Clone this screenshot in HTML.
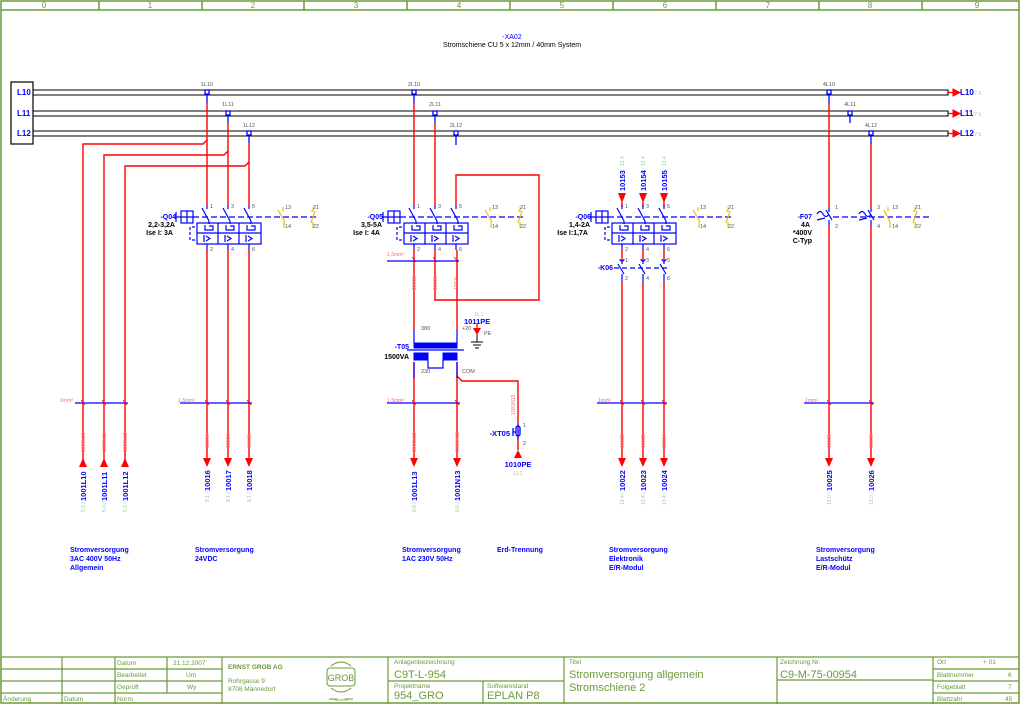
<!DOCTYPE html>
<html><head><meta charset="utf-8"><style>
html,body{margin:0;padding:0;background:#fff;}
svg{display:block;font-family:"Liberation Sans",sans-serif;}
</style></head><body>
<svg width="1024" height="704" viewBox="0 0 1024 704" xmlns="http://www.w3.org/2000/svg">
<defs>
<g id="brk" fill="none" stroke="#0000ff" stroke-width="1.2">
  <path d="M207,205v4M228,205v4M249,205v4"/>
  <path d="M202,208l7,13M223,208l7,13M244,208l7,13"/>
  <path d="M209,221v3M230,221v3M251,221v3"/>
  <path d="M193,217H318" stroke-dasharray="6,3"/>
  <rect x="181" y="211" width="12" height="12"/>
  <path d="M187,211v12M181,217h12M176,212v10M176,217h5"/>
  <rect x="197" y="223" width="64" height="21"/>
  <path d="M218,223v21M239,223v21M197,233h64"/>
  <path d="M205,225v5h8v-4h-4M226,225v5h8v-4h-4M247,225v5h8v-4h-4"/>
  <path d="M204,235v7M206,236l4,2.5l-4,2.5M225,235v7M227,236l4,2.5l-4,2.5M246,235v7M248,236l4,2.5l-4,2.5"/>
  <path d="M195,227h-5v13h7" stroke-dasharray="3,2"/>
  <path d="M207,244v6M228,244v6M249,244v6"/>
</g>
<g id="aux" fill="none" stroke="#e0c020" stroke-width="1.2">
  <path d="M283,207v4M278,210l7,12M284,222v6M313,207v4h-2M315,211l-4,12M313,222v6"/>
</g>
</defs>

<!-- frame -->
<g stroke="#6a9a3a" fill="none" stroke-width="1.5">
  <rect x="1" y="1" width="1018" height="702"/>
  <path d="M1,10H1019"/>
  <path d="M99,1v9M202,1v9M304,1v9M407,1v9M510,1v9M613,1v9M716,1v9M819,1v9M922,1v9"/>
</g>
<g fill="#6a9a3a" font-size="8" text-anchor="middle">
  <text x="44" y="8">0</text><text x="150" y="8">1</text><text x="253" y="8">2</text><text x="356" y="8">3</text><text x="459" y="8">4</text><text x="562" y="8">5</text><text x="665" y="8">6</text><text x="768" y="8">7</text><text x="870" y="8">8</text><text x="977" y="8">9</text>
</g>

<!-- header -->
<text x="512" y="39" font-size="7" fill="#0000ff" text-anchor="middle">-XA02</text>
<text x="512" y="47" font-size="7" fill="#000" text-anchor="middle">Stromschiene CU 5 x 12mm / 40mm System</text>

<!-- busbars -->
<rect x="11" y="82" width="22" height="62" fill="none" stroke="#000" stroke-width="1.2"/>
<g fill="#0000ff" font-size="8" font-weight="bold">
<text x="17" y="95">L10</text><text x="17" y="116">L11</text><text x="17" y="136">L12</text>
</g>
<g stroke="#000" stroke-width="1.1" fill="none">
<path d="M33,90H948V95H33M33,111H948V116H33M33,131H948V136H33"/>
</g>
<g fill="#ff0000" stroke="#ff0000">
<path d="M948,92.5h6M948,113.5h6M948,133.5h6" stroke-width="1.2"/>
<polygon points="953,89 960,92.5 953,96"/><polygon points="953,110 960,113.5 953,117"/><polygon points="953,130 960,133.5 953,137"/>
</g>
<g font-size="8" font-weight="bold" fill="#0000ff">
<text x="960" y="95">L10</text><text x="960" y="116">L11</text><text x="960" y="136">L12</text></g>
<g font-size="5" fill="#9c9">
<text x="973" y="95">/7.0</text><text x="973" y="116">/7.0</text><text x="973" y="136">/7.0</text></g>

<!-- tap labels -->
<g font-size="5.5" fill="#555" text-anchor="middle">
<text x="207" y="86">1L10</text><text x="228" y="106">1L11</text><text x="249" y="127">1L12</text>
<text x="414" y="86">2L10</text><text x="435" y="106">2L11</text><text x="456" y="127">2L12</text>
<text x="829" y="86">4L10</text><text x="850" y="106">4L11</text><text x="871" y="127">4L12</text>
</g>
<g stroke="#0000ff" stroke-width="1.3" fill="#fff">
<path d="M207,94v9M228,115v8M249,135v8M414,94v9M435,115v8M456,135v10M829,94v9M850,115v8M871,135v9" fill="none"/>
<rect x="205" y="90" width="4" height="4"/><rect x="226" y="111" width="4" height="4"/><rect x="247" y="131" width="4" height="4"/>
<rect x="412" y="90" width="4" height="4"/><rect x="433" y="111" width="4" height="4"/><rect x="454" y="131" width="4" height="4"/>
<rect x="827" y="90" width="4" height="4"/><rect x="848" y="111" width="4" height="4"/><rect x="869" y="131" width="4" height="4"/>
</g>

<!-- red wiring -->
<g stroke="#ff0000" stroke-width="1.4" fill="none">
<path d="M207,103V205M228,123V205M249,143V205"/>
<path d="M207,140l-4,4H83V460M228,151l-4,4H104V460M249,162l-4,4H125V460"/>
<path d="M207,250V460M228,250V460M249,250V460"/>
<path d="M414,103V205M435,123V205M456,205V175H539V300H435V250M414,250V330M414,362V460M457,250V330M457,362V460"/>
<path d="M457,376l5,5H518V424M518,440V450"/>
<path d="M622,202V207M643,202V207M664,202V207M622,250V262M643,250V262M664,250V262M622,282V460M643,282V460M664,282V460"/>
<path d="M829,103V207M871,143V207M829,226V460M871,226V460"/>
</g>

<!-- breakers -->
<use href="#brk"/><use href="#aux"/>
<use href="#brk" transform="translate(207,0)"/><use href="#aux" transform="translate(207,0)"/>
<use href="#brk" transform="translate(415,0)"/><use href="#aux" transform="translate(415,0)"/>

<g font-size="5.5" fill="#555">
<text x="210" y="208">1</text><text x="231" y="208">3</text><text x="252" y="208">5</text>
<text x="210" y="251">2</text><text x="231" y="251">4</text><text x="252" y="251">6</text>
<text x="417" y="208">1</text><text x="438" y="208">3</text><text x="459" y="208">5</text>
<text x="417" y="251">2</text><text x="438" y="251">4</text><text x="459" y="251">6</text>
<text x="625" y="208">1</text><text x="646" y="208">3</text><text x="667" y="208">5</text>
<text x="625" y="251">2</text><text x="646" y="251">4</text><text x="667" y="251">6</text>
<text x="285" y="209">13</text><text x="285" y="228">14</text><text x="313" y="209">21</text><text x="313" y="228">22</text>
<text x="492" y="209">13</text><text x="492" y="228">14</text><text x="520" y="209">21</text><text x="520" y="228">22</text>
<text x="700" y="209">13</text><text x="700" y="228">14</text><text x="728" y="209">21</text><text x="728" y="228">22</text>
<text x="835" y="209">1</text><text x="835" y="228">2</text><text x="877" y="209">3</text><text x="877" y="228">4</text>
<text x="892" y="209">13</text><text x="892" y="228">14</text><text x="915" y="209">21</text><text x="915" y="228">22</text>
</g>
<g font-size="7" font-weight="bold" text-anchor="end">
<text x="176" y="219" fill="#0000ff">-Q04</text><text x="175" y="227" fill="#000">2,2-3,2A</text><text x="173" y="235" fill="#000">Ise I: 3A</text>
<text x="383" y="219" fill="#0000ff">-Q05</text><text x="382" y="227" fill="#000">3,5-5A</text><text x="380" y="235" fill="#000">Ise I: 4A</text>
<text x="591" y="219" fill="#0000ff">-Q06</text><text x="590" y="227" fill="#000">1,4-2A</text><text x="588" y="235" fill="#000">Ise I:1,7A</text>
<text x="812" y="219" fill="#0000ff">-F07</text><text x="810" y="227" fill="#000">4A</text><text x="812" y="235" fill="#000">*400V</text><text x="812" y="243" fill="#000">C-Typ</text>
<text x="613" y="270" fill="#0000ff">-K06</text>
</g>

<!-- K06 contacts -->
<g stroke="#0000ff" stroke-width="1.2" fill="none">
<path d="M622,262v2M618,264l6,10M622,274v8M643,262v2M639,264l6,10M643,274v8M664,262v2M660,264l6,10M664,274v8"/>
<path d="M614,268H668" stroke-dasharray="5,3"/>
<path d="M620,259a2,2 0 0 0 4,0M641,259a2,2 0 0 0 4,0M662,259a2,2 0 0 0 4,0"/>
</g>
<g font-size="5.5" fill="#555"><text x="625" y="262">1</text><text x="646" y="262">3</text><text x="667" y="262">5</text><text x="625" y="280">2</text><text x="646" y="280">4</text><text x="667" y="280">6</text></g>

<!-- Q06 top arrows and labels -->
<g fill="#ff0000"><polygon points="618,193 626,193 622,203"/><polygon points="639,193 647,193 643,203"/><polygon points="660,193 668,193 664,203"/></g>
<g font-size="7.5" font-weight="bold" fill="#0000ff">
<text transform="translate(625,191) rotate(-90)">10153</text><text transform="translate(646,191) rotate(-90)">10154</text><text transform="translate(667,191) rotate(-90)">10155</text></g>
<g font-size="5" fill="#9c9">
<text transform="translate(624,166) rotate(-90)">13.4</text><text transform="translate(645,166) rotate(-90)">13.4</text><text transform="translate(666,166) rotate(-90)">13.4</text></g>

<!-- F07 -->
<g stroke="#0000ff" stroke-width="1.2" fill="none">
<path d="M829,207v5M826,210l6,10M829,220v6M871,207v5M868,210l6,10M871,220v6"/>
<path d="M833,217H932" stroke-dasharray="6,3"/>
<path d="M817,214q3,-5 6,0q3,5 6,0M859,214q3,-5 6,0q3,5 6,0M817,220l8,-2M859,220l8,-2"/>
</g>
<g fill="none" stroke="#e0c020" stroke-width="1.2"><path d="M888,207v4M884,210l6,12M890,222v6M915,207v4h-2M917,211l-4,12M915,222v6"/></g>

<!-- transformer -->
<g fill="#0000ff" stroke="#0000ff">
<rect x="414" y="343" width="43" height="5"/>
<path d="M414,330V343M457,330V343M414,362V378M457,362V378M407,350H464" fill="none" stroke-width="1.2"/>
<rect x="414" y="353" width="14" height="7"/><rect x="443" y="353" width="14" height="7"/>
<path d="M428,360v8h15v-8" fill="none" stroke-width="1.2"/>
</g>
<g font-size="5.5" fill="#555"><text x="421" y="330">380</text><text x="421" y="373">230</text><text x="462" y="373">COM</text><text x="462" y="330">+20</text><text x="484" y="335">PE</text></g>
<text x="409" y="349" font-size="7" font-weight="bold" fill="#0000ff" text-anchor="end">-T05</text>
<text x="409" y="359" font-size="7" font-weight="bold" fill="#000" text-anchor="end">1500VA</text>
<text x="464" y="324" font-size="7.5" font-weight="bold" fill="#0000ff">1011PE</text>
<text x="474" y="316" font-size="5" fill="#9c9">11.1</text>
<g stroke="#000" fill="none" stroke-width="1"><path d="M477,334v8M471,342h12M473,345h8M475,348h4"/></g>
<polygon points="473,328 481,328 477,335" fill="#ff0000"/>
<path d="M477,324v5" stroke="#ff0000" stroke-width="1.2"/>

<!-- XT05 -->
<g stroke="#0000ff" stroke-width="1.3" fill="none"><path d="M518,424v16M513,428v8M513,432h3"/><rect x="516" y="426" width="4" height="10" rx="2"/></g>
<text x="510" y="436" font-size="7.5" font-weight="bold" fill="#0000ff" text-anchor="end">-XT05</text>
<g font-size="5.5" fill="#555"><text x="523" y="427">1</text><text x="523" y="445">2</text></g>
<polygon points="514,458 522,458 518,450" fill="#ff0000"/>
<text x="518" y="467" font-size="7.5" font-weight="bold" fill="#0000ff" text-anchor="middle">1010PE</text>
<text x="518" y="475" font-size="5" fill="#9c9" text-anchor="middle">11.1</text>
<text transform="translate(515,415) rotate(-90)" font-size="5" fill="#f66">1001N13</text>

<!-- wire cross-sections -->
<g stroke="#0000ff" stroke-width="1.2" fill="none">
<path d="M75,403H128M180,403H252M387,403H460M597,403H667M804,403H874"/>
</g>
<g stroke="#ff0000" stroke-width="0.8"><path d="M81,400l4,5M102,400l4,5M123,400l4,5M205,400l4,5M226,400l4,5M247,400l4,5M412,400l4,5M455,400l4,5M620,400l4,5M641,400l4,5M662,400l4,5M827,400l4,5M869,400l4,5M412,257l4,5M433,257l4,5M454,257l4,5"/></g>
<path d="M387,261H459" stroke="#0000ff" stroke-width="1.2"/>
<g font-size="5" fill="#f66" font-style="italic">
<text x="60" y="402">1mm²</text><text x="178" y="402">1,5mm²</text><text x="387" y="402">1,5mm²</text><text x="387" y="256">1,5mm²</text><text x="598" y="402">1mm²</text><text x="805" y="402">1mm²</text>
</g>

<!-- bottom arrows -->
<g fill="#ff0000">
<polygon points="79,467 87,467 83,458"/><polygon points="100,467 108,467 104,458"/><polygon points="121,467 129,467 125,458"/>
<polygon points="203,458 211,458 207,467"/><polygon points="224,458 232,458 228,467"/><polygon points="245,458 253,458 249,467"/>
<polygon points="410,458 418,458 414,467"/><polygon points="453,458 461,458 457,467"/>
<polygon points="618,458 626,458 622,467"/><polygon points="639,458 647,458 643,467"/><polygon points="660,458 668,458 664,467"/>
<polygon points="825,458 833,458 829,467"/><polygon points="867,458 875,458 871,467"/>
</g>
<g font-size="7.5" font-weight="bold" fill="#0000ff">
<text transform="translate(86,501) rotate(-90)">1001L10</text><text transform="translate(107,501) rotate(-90)">1001L11</text><text transform="translate(128,501) rotate(-90)">1001L12</text>
<text transform="translate(210,491) rotate(-90)">10016</text><text transform="translate(231,491) rotate(-90)">10017</text><text transform="translate(252,491) rotate(-90)">10018</text>
<text transform="translate(417,501) rotate(-90)">1001L13</text><text transform="translate(460,501) rotate(-90)">1001N13</text>
<text transform="translate(625,491) rotate(-90)">10022</text><text transform="translate(646,491) rotate(-90)">10023</text><text transform="translate(667,491) rotate(-90)">10024</text>
<text transform="translate(832,491) rotate(-90)">10025</text><text transform="translate(874,491) rotate(-90)">10026</text>
</g>
<g font-size="5" fill="#f66">
<text transform="translate(85,452) rotate(-90)">1001L10</text><text transform="translate(106,452) rotate(-90)">1001L11</text><text transform="translate(127,452) rotate(-90)">1001L12</text>
<text transform="translate(209,448) rotate(-90)">10016</text><text transform="translate(230,448) rotate(-90)">10017</text><text transform="translate(251,448) rotate(-90)">10018</text>
<text transform="translate(416,452) rotate(-90)">1001L13</text><text transform="translate(459,452) rotate(-90)">1001N13</text>
<text transform="translate(416,290) rotate(-90)">10019</text><text transform="translate(437,290) rotate(-90)">10020</text><text transform="translate(458,290) rotate(-90)">10021</text>
<text transform="translate(624,448) rotate(-90)">10022</text><text transform="translate(645,448) rotate(-90)">10023</text><text transform="translate(666,448) rotate(-90)">10024</text>
<text transform="translate(831,448) rotate(-90)">10025</text><text transform="translate(873,448) rotate(-90)">10026</text>
</g>
<g font-size="5" fill="#9c9">
<text transform="translate(85,512) rotate(-90)">5.0 /</text><text transform="translate(106,512) rotate(-90)">5.0 /</text><text transform="translate(127,512) rotate(-90)">5.0 /</text>
<text transform="translate(209,502) rotate(-90)">8.1 /</text><text transform="translate(230,502) rotate(-90)">8.1 /</text><text transform="translate(251,502) rotate(-90)">8.1 /</text>
<text transform="translate(416,512) rotate(-90)">8.0 /</text><text transform="translate(459,512) rotate(-90)">8.0 /</text>
<text transform="translate(624,505) rotate(-90)">13.4 /</text><text transform="translate(645,505) rotate(-90)">13.4 /</text><text transform="translate(666,505) rotate(-90)">13.4 /</text>
<text transform="translate(831,505) rotate(-90)">13.0 /</text><text transform="translate(873,505) rotate(-90)">13.0 /</text>
</g>

<!-- group captions -->
<g font-size="7" font-weight="bold" fill="#0000ff">
<text x="70" y="552">Stromversorgung</text><text x="70" y="561">3AC 400V 50Hz</text><text x="70" y="570">Allgemein</text>
<text x="195" y="552">Stromversorgung</text><text x="195" y="561">24VDC</text>
<text x="402" y="552">Stromversorgung</text><text x="402" y="561">1AC 230V 50Hz</text>
<text x="497" y="552">Erd-Trennung</text>
<text x="609" y="552">Stromversorgung</text><text x="609" y="561">Elektronik</text><text x="609" y="570">E/R-Modul</text>
<text x="816" y="552">Stromversorgung</text><text x="816" y="561">Lastschütz</text><text x="816" y="570">E/R-Modul</text>
</g>

<!-- title block -->
<g stroke="#6a9a3a" stroke-width="1.2" fill="none">
<path d="M1,657H1019"/>
<path d="M1,669H222M1,681H222M1,693H222M388,681H564M777,680H933M933,669H1019M933,681H1019M933,693H1019"/>
<path d="M62,657V704M115,657V704M167,657V693M222,657V704M388,657V704M483,681V704M564,657V704M777,657V704M933,657V704"/>
</g>
<g font-size="6.5" fill="#6a9a3a">
<text x="117" y="665">Datum</text><text x="117" y="677">Bearbeitet</text><text x="117" y="689">Geprüft</text><text x="117" y="701">Norm</text>
<text x="173" y="665">21.12.2007</text><text x="186" y="677">Um</text><text x="187" y="689">Wy</text>
<text x="3" y="701">Änderung</text><text x="64" y="701">Datum</text>
<text x="228" y="669" font-weight="bold">ERNST GROB AG</text>
<text x="228" y="683">Rohrgasse 9</text><text x="228" y="691">8708 Männedorf</text>
<text x="394" y="664">Anlagenbezeichnung</text><text x="394" y="688">Projektname</text><text x="487" y="688">Softwarestand</text>
<text x="569" y="664">Titel</text><text x="780" y="664">Zeichnung Nr.</text>
<text x="937" y="664">Ort</text><text x="983" y="664">+ 01</text>
<text x="937" y="677">Blattnummer</text><text x="1008" y="677">6</text>
<text x="937" y="689">Folgeblatt</text><text x="1008" y="689">7</text>
<text x="937" y="701">Blattzahl</text><text x="1005" y="701">45</text>
</g>
<g font-size="11" fill="#6a9a3a">
<text x="394" y="678">C9T-L-954</text><text x="394" y="699">954_GRO</text><text x="487" y="699">EPLAN P8</text>
<text x="569" y="678">Stromversorgung allgemein</text><text x="569" y="691">Stromschiene 2</text>
<text x="780" y="678">C9-M-75-00954</text>
</g>
<!-- logo -->
<g stroke="#6a9a3a" fill="none" stroke-width="1">
<rect x="327" y="668" width="28" height="18" rx="3"/>
<path d="M331,666q10,-8 20,0M331,688q10,8 20,0M329,699h8M345,699h8"/>
</g>
<text x="341" y="681" font-size="9" fill="#6a9a3a" text-anchor="middle">GROB</text>
<text x="341" y="701" font-size="3.5" fill="#6a9a3a" text-anchor="middle">Schmied</text>
</svg>
</body></html>
